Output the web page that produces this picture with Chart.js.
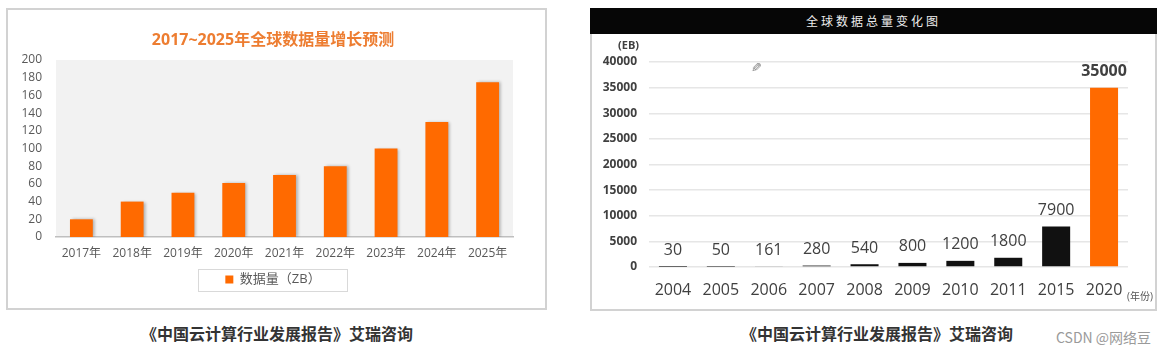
<!DOCTYPE html>
<html><head><meta charset="utf-8">
<script src="https://cdn.jsdelivr.net/npm/chart.js@4.4.1/dist/chart.umd.min.js"></script>
<style>
html,body{margin:0;padding:0;background:#fff;width:1170px;height:354px;overflow:hidden;position:relative;font-family:"Noto Sans CJK SC",sans-serif;}
.panel{position:absolute;border:2px solid #d2d2d2;box-sizing:border-box;background:#fff;}
#p1{left:6px;top:8px;width:541px;height:302px;}
#p2{left:590px;top:8px;width:567px;height:303px;}
#hdr{position:absolute;left:590px;top:8px;width:567px;height:26px;background:#060606;color:#eeeeee;font-size:12px;letter-spacing:3px;text-align:center;line-height:26px;font-family:"Noto Sans CJK SC",sans-serif;}
#c1{position:absolute;left:8px;top:10px;}
#c2{position:absolute;left:592px;top:34px;}
.cap{position:absolute;top:321px;font-size:16px;font-weight:bold;color:#333;white-space:nowrap;transform:translateX(-50%);font-family:"Noto Sans CJK SC",sans-serif;}
#wm{position:absolute;left:1056px;top:327px;font-size:14px;color:#9a9a9a;white-space:nowrap;font-family:"Noto Sans CJK SC",sans-serif;}
#pen{position:absolute;left:751px;top:60px;font-size:13px;color:#777;font-family:"DejaVu Sans";transform:scaleX(-1);}
</style></head>
<body>
<div class="panel" id="p1"></div>
<div class="panel" id="p2"></div>
<div id="hdr">全球数据总量变化图</div>
<canvas id="c1" width="537" height="298"></canvas>
<canvas id="c2" width="563" height="275"></canvas>
<div id="pen">✎</div>
<div class="cap" style="left:277px">《中国云计算行业发展报告》艾瑞咨询</div>
<div class="cap" style="left:877px">《中国云计算行业发展报告》艾瑞咨询</div>
<div id="wm">CSDN @网络豆</div>
<script>
// ---- Left chart data ----
const leftTitle = '2017~2025年全球数据量增长预测';
const leftYears = ['2017年','2018年','2019年','2020年','2021年','2022年','2023年','2024年','2025年'];
const leftVolumeZB = [20, 40, 50, 61, 70, 80, 100, 130, 175];
const leftSeriesName = '数据量（ZB）';
const leftYTicks = [0, 20, 40, 60, 80, 100, 120, 140, 160, 180, 200];

// ---- Right chart data ----
const rightYears = ['2004','2005','2006','2007','2008','2009','2010','2011','2015','2020'];
const rightVolumeEB = [30, 50, 161, 280, 540, 800, 1200, 1800, 7900, 35000];
const rightYTicks = [0, 5000, 10000, 15000, 20000, 25000, 30000, 35000, 40000];
const rightUnitY = '(EB)';
const rightUnitX = '(年份)';

const F = '"Open Sans","Noto Sans CJK SC",sans-serif';
const ORANGE = '#FF6A00';
const BLACK = '#111111';

const bgPlugin = {
  id: 'plotBg',
  beforeDraw(chart) {
    const a = chart.chartArea, ctx = chart.ctx;
    ctx.save(); ctx.fillStyle = '#f2f2f2';
    ctx.fillRect(a.left, a.top, a.right - a.left, a.bottom - a.top);
    ctx.restore();
  },
  beforeDatasetsDraw(chart) {
    const ctx = chart.ctx; ctx.save();
    ctx.shadowColor = 'rgba(0,0,0,0.28)'; ctx.shadowBlur = 3; ctx.shadowOffsetX = 2; ctx.shadowOffsetY = 0;
  },
  afterDatasetsDraw(chart) { chart.ctx.restore(); },
  afterDraw(chart) {
    const lg = chart.legend; if (!lg || !lg.legendHitBoxes || !lg.legendHitBoxes.length) return;
    const h = lg.legendHitBoxes[0]; const ctx = chart.ctx;
    const cy = h.top + h.height / 2;
    ctx.save(); ctx.strokeStyle = '#d9d9d9'; ctx.lineWidth = 1;
    ctx.strokeRect(Math.round(h.left - 27) + 0.5, Math.round(cy - 11) + 0.5, Math.round(h.width + 54), 22);
    ctx.restore();
  }
};

new Chart(document.getElementById('c1'), {
  type: 'bar',
  data: { labels: leftYears, datasets: [{ label: leftSeriesName, data: leftVolumeZB, backgroundColor: ORANGE,
    categoryPercentage: 0.5, barPercentage: 0.9 }] },
  options: {
    responsive: false, animation: false, devicePixelRatio: 1,
    layout: { padding: { left: 0, right: 7, top: 0, bottom: 12 } },
    plugins: {
      title: { display: true, text: leftTitle, color: '#ED7D31', font: { size: 16, weight: 'bold', family: F }, padding: { top: 20.4, bottom: 10.4 } },
      legend: { position: 'bottom', labels: { boxWidth: 8, boxHeight: 8, padding: 10, color: '#595959', font: { size: 13, family: F } } },
      tooltip: { enabled: false }
    },
    scales: {
      x: { grid: { display: false, drawTicks: false }, border: { display: true, color: '#bfbfbf', width: 1.5 },
           ticks: { color: '#595959', font: { size: 12, family: F }, padding: 9, maxRotation: 0, autoSkip: false },
           afterFit: s => { s.height = 26; } },
      y: { min: 0, max: 200, afterBuildTicks: s => { s.ticks = leftYTicks.map(v => ({ value: v })); },
           grid: { display: false, drawTicks: false }, border: { display: false },
           ticks: { color: '#595959', font: { size: 12, family: F }, padding: 14, callback: v => String(v) },
           afterFit: s => { s.width = 48; } },
      y2: { position: 'right', display: true, grid: { display: false, drawTicks: false }, border: { display: false },
            ticks: { display: false }, afterFit: s => { s.width = 25; } }
    }
  },
  plugins: [bgPlugin]
});

const labelPlugin = {
  id: 'valueLabels',
  afterDatasetsDraw(chart) {
    const ctx = chart.ctx, meta = chart.getDatasetMeta(0), ds = chart.data.datasets[0];
    ctx.save(); ctx.textAlign = 'center'; ctx.textBaseline = 'middle'; ctx.fillStyle = '#404040';
    meta.data.forEach((el, i) => {
      const last = i === meta.data.length - 1;
      ctx.font = (last ? 'bold ' : '') + '16px ' + F;
      ctx.fillText(String(ds.data[i]), el.x, el.y - 16);
    });
    const ys = chart.scales.y, a = chart.chartArea;
    ctx.font = 'bold 11px ' + F; ctx.textAlign = 'right';
    ctx.fillText(rightUnitY, ys.right - 10, a.top - 16);
    ctx.font = '10px ' + F; ctx.textAlign = 'left'; ctx.fillStyle = '#555';
    ctx.fillText(rightUnitX, a.right - 1, a.bottom + 30);
    ctx.restore();
  }
};

new Chart(document.getElementById('c2'), {
  type: 'bar',
  data: { labels: rightYears, datasets: [{ data: rightVolumeEB,
    backgroundColor: rightVolumeEB.map((v, i) => i === rightVolumeEB.length - 1 ? ORANGE : BLACK),
    categoryPercentage: 0.65, barPercentage: 0.9 }] },
  options: {
    responsive: false, animation: false, devicePixelRatio: 1,
    layout: { padding: { left: 0, right: 27, top: 28, bottom: 0 } },
    plugins: { legend: { display: false }, title: { display: false }, tooltip: { enabled: false } },
    scales: {
      x: { grid: { display: false, drawTicks: false }, border: { display: false },
           ticks: { color: '#404040', font: { size: 16, family: F }, padding: 14, maxRotation: 0, autoSkip: false },
           afterFit: s => { s.height = 42; } },
      y: { min: 0, max: 40000, afterBuildTicks: s => { s.ticks = rightYTicks.map(v => ({ value: v })); },
           grid: { color: '#e6e6e6', lineWidth: 1.5, drawTicks: false }, border: { display: false },
           ticks: { color: '#404040', font: { size: 12, weight: 'bold', family: F }, padding: 12, callback: v => String(v) },
           afterFit: s => { s.width = 57; } }
    }
  },
  plugins: [labelPlugin]
});
</script>
</body></html>
